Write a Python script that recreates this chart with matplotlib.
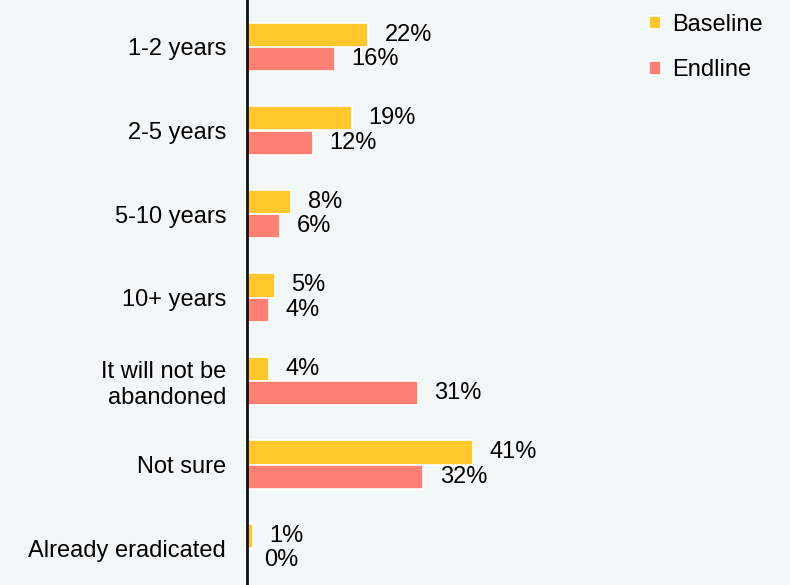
import matplotlib.pyplot as plt
import numpy as np

categories = ["1-2 years", "2-5 years", "5-10 years", "10+ years",
              "It will not be\nabandoned", "Not sure", "Already eradicated"]
baseline = [22, 19, 8, 5, 4, 41, 1]
endline = [16, 12, 6, 4, 31, 32, 0]

bg = "#F2F7F7"
col_base = "#FFC72C"
col_end = "#FF7F74"

plt.rcParams['font.family'] = ['Liberation Sans', 'DejaVu Sans']
fs = 17

fig = plt.figure(figsize=(7.9, 5.85), dpi=100, facecolor=bg)
ax = fig.add_axes([247 / 790, 0, 1 - 247 / 790, 1], facecolor=bg)

y = np.arange(len(categories))
h = 0.29
b1 = ax.barh(y - h / 2, baseline, height=h, color=col_base, edgecolor="white",
             linewidth=1.2, label="Baseline")
b2 = ax.barh(y + h / 2, endline, height=h, color=col_end, edgecolor="white",
             linewidth=1.2, label="Endline")

for bars, vals in ((b1, baseline), (b2, endline)):
    ax.bar_label(bars, labels=[f"{v}%" for v in vals], padding=12, fontsize=fs,
                 color="black")

ax.set_xlim(0, (790 - 247) / 5.5)
ax.set_ylim((585 - 47) / 83.5, -47 / 83.5)
ax.set_yticks(y)
ax.set_yticklabels(categories, fontsize=fs, ha="right", multialignment="right")
ax.tick_params(axis="y", length=0, pad=15)
ax.set_xticks([])

for s in ("top", "right", "bottom"):
    ax.spines[s].set_visible(False)
ax.spines["left"].set_linewidth(2)
ax.spines["left"].set_color("#111111")

leg = ax.legend(loc="upper right", bbox_to_anchor=(782 / 790, 590 / 585),
                bbox_transform=fig.transFigure, frameon=False,
                fontsize=fs, handlelength=0.5, handleheight=0.5,
                handletextpad=0.5, labelspacing=1.0, borderaxespad=0.4)

fig.savefig("out.png", dpi=100, facecolor=bg)
